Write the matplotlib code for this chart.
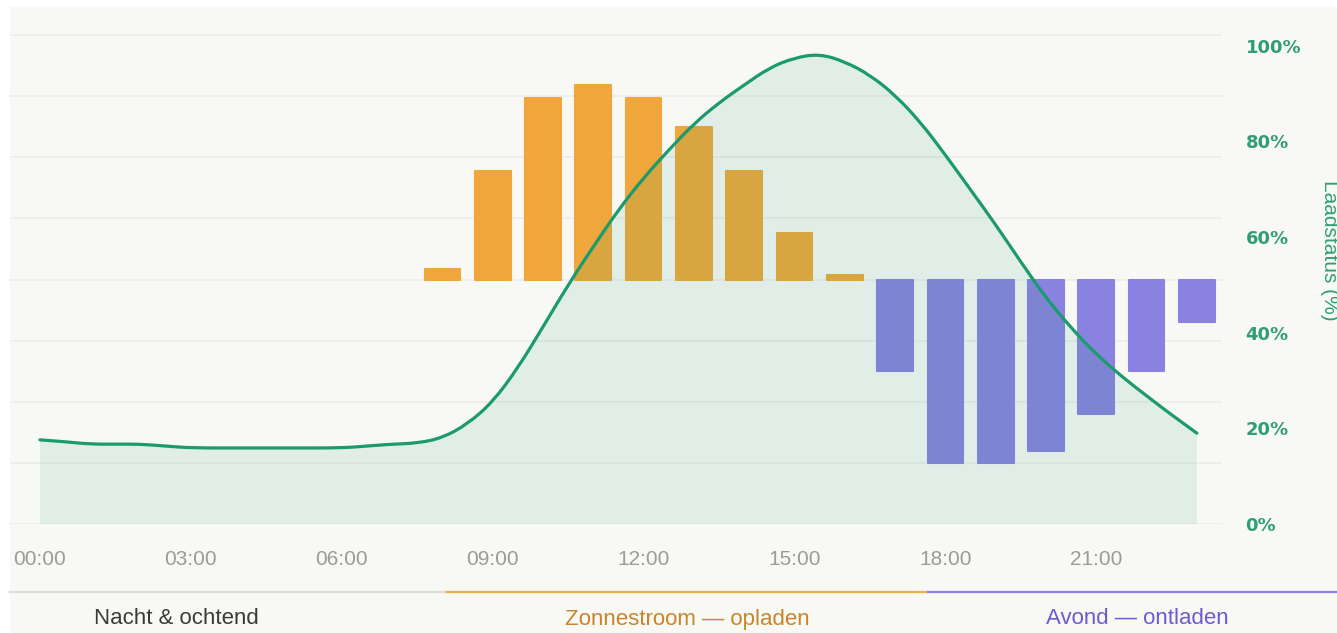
import matplotlib
matplotlib.use("Agg")
import matplotlib.pyplot as plt
from matplotlib.patches import Rectangle, PathPatch
from matplotlib.lines import Line2D
from matplotlib.path import Path
from matplotlib.ticker import FixedLocator

# ------------------------------
# Data
# ------------------------------
bar_hours = [8, 9, 10, 11, 12, 13, 14, 15, 16, 17, 18, 19, 20, 21, 22, 23]
bar_power = [0.18, 1.77, 2.98, 3.18, 2.98, 2.49, 1.77, 0.77, 0.08,
             -1.5, -3.0, -3.0, -2.8, -2.2, -1.5, -0.7]

soc_hours = [0, 0.5, 1, 1.5, 2, 2.5, 3, 4, 5, 6, 6.5, 7, 7.5, 8, 8.5, 9, 9.5,
             10, 10.5, 11, 11.5, 12, 12.5, 13, 13.5, 14, 14.5, 15, 15.5, 16,
             16.5, 17, 17.5, 18, 18.5, 19, 19.5, 20, 20.5, 21, 21.5, 22, 22.5, 23]
soc_pct = [17.6, 17.2, 16.7, 16.7, 16.7, 16.3, 15.9, 15.9, 15.9, 15.9, 16.3,
           16.7, 16.9, 18.0, 20.9, 25.5, 32.6, 41.2, 50.0, 58.0, 65.7, 72.4,
           78.2, 83.7, 88.1, 91.8, 95.4, 97.5, 98.3, 96.7, 93.9, 89.7, 84.1,
           77.2, 69.9, 62.6, 54.8, 47.3, 41.0, 35.5, 30.9, 26.8, 22.8, 19.0]

xtick_hours = [0, 3, 6, 9, 12, 15, 18, 21]
xtick_labels = ["00:00", "03:00", "06:00", "09:00", "12:00", "15:00", "18:00", "21:00"]
soc_ticks = [0, 20, 40, 60, 80, 100]

phase_labels = ["Nacht & ochtend", "Zonnestroom — opladen", "Avond — ontladen"]

# ------------------------------
# Styling
# ------------------------------
W, H = 1337, 633
BG = "#F8F8F5"
GREEN = "#1B9A6D"
ORANGE = "#EFA73B"
PURPLE = "#8A82E0"
GRID = "#EDEDEA"
TICK_GREY = "#9B9B9B"


def smooth_path(xs, ys):
    # quadratic bezier through midpoints -> smooth rendering of the polyline
    verts = [(xs[0], ys[0]), ((xs[0] + xs[1]) / 2, (ys[0] + ys[1]) / 2)]
    codes = [Path.MOVETO, Path.LINETO]
    for i in range(1, len(xs) - 1):
        verts += [(xs[i], ys[i]), ((xs[i] + xs[i + 1]) / 2, (ys[i] + ys[i + 1]) / 2)]
        codes += [Path.CURVE3, Path.CURVE3]
    verts.append((xs[-1], ys[-1]))
    codes.append(Path.LINETO)
    return verts, codes


fig = plt.figure(figsize=(W / 100, H / 100), dpi=100)
fig.patch.set_facecolor("white")
fig.patches.append(Rectangle((10 / W, 0), 1, (H - 7) / H, transform=fig.transFigure,
                             facecolor=BG, edgecolor="none", zorder=-10))

ax = fig.add_axes([10 / W, (H - 524) / H, 1212 / W, 516 / H])
ax.patch.set_visible(False)
ax2 = ax.twinx()
ax2.patch.set_visible(False)

# bars: charge (+) / discharge (-)
colors = [ORANGE if v >= 0 else PURPLE for v in bar_power]
bars = ax.bar(bar_hours, bar_power, width=0.71, color=colors, edgecolor=colors,
              linewidth=1.5, zorder=2)
for b in bars:
    b.set_joinstyle("round")

ax.set_xlim(-0.596, 23.5)
ax.set_ylim(-4, 4.445)
ax.yaxis.set_major_locator(FixedLocator([-4, -3, -2, -1, 0, 1, 2, 3, 4]))
ax.grid(axis="y", color=GRID, linewidth=1.3, zorder=0)
ax.set_axisbelow(True)
ax.tick_params(axis="y", left=False, labelleft=False)
ax.set_xticks(xtick_hours)
ax.set_xticklabels(xtick_labels, fontsize=15, color=TICK_GREY, family="Liberation Sans")
ax.tick_params(axis="x", length=0, pad=19)
for s in ax.spines.values():
    s.set_visible(False)

# state of charge (smooth line + soft area)
verts, codes = smooth_path(soc_hours, soc_pct)
fill_verts = verts + [(soc_hours[-1], 0), (soc_hours[0], 0), (soc_hours[0], soc_pct[0])]
fill_codes = codes + [Path.LINETO, Path.LINETO, Path.CLOSEPOLY]
ax2.add_patch(PathPatch(Path(fill_verts, fill_codes), facecolor=GREEN, alpha=0.1,
                        edgecolor="none", zorder=3))
ax2.add_patch(PathPatch(Path(verts, codes), facecolor="none", edgecolor=GREEN,
                        linewidth=2.3, capstyle="round", zorder=4))
ax2.set_ylim(0, 107.9)
ax2.set_yticks(soc_ticks)
ax2.set_yticklabels([f"{t}%" for t in soc_ticks], fontsize=13, fontweight="bold",
                    color="#2F9E77", family="DejaVu Sans")
ax2.tick_params(axis="y", length=0, pad=17)
for s in ax2.spines.values():
    s.set_visible(False)

fig.text(1329 / W, 1 - 250 / H, "Laadstatus (%)", rotation=270, ha="center", va="center",
         fontsize=15, color="#2F9E77", family="Liberation Sans")

# phase band below the chart
edges = [10, 447, 928, W]
band_colors = ["#DCDCDA", "#EEB04A", "#8A80E0"]
yb = 1 - 592 / H
for i in range(3):
    fig.add_artist(Line2D([edges[i] / W, edges[i + 1] / W], [yb, yb],
                          color=band_colors[i], linewidth=1.6,
                          transform=fig.transFigure))

label_x = [176, 687, 1137]
label_colors = ["#3A3A3A", "#C8862A", "#6B5CCF"]
for lx, txt, c in zip(label_x, phase_labels, label_colors):
    fig.text(lx / W, 1 - 619 / H, txt, ha="center", va="center", fontsize=16,
             color=c, family="Liberation Sans")

fig.savefig("out.png", dpi=100, facecolor=fig.get_facecolor())
